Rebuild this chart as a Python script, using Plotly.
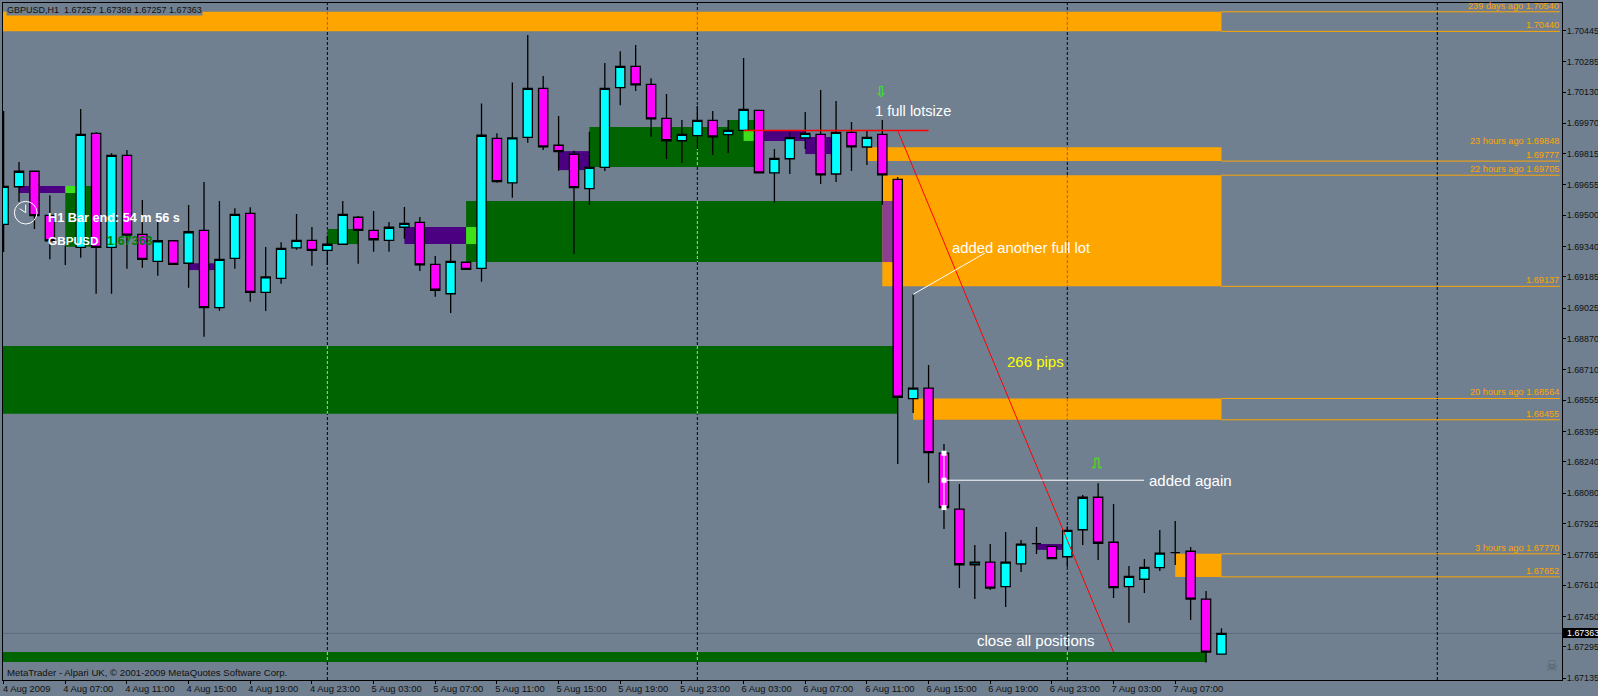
import plotly.graph_objects as go

# ---------- data ----------
open_ = [1.69454,1.69646,1.69725,1.69500,None,1.69336,1.69919,1.69336,1.69806,1.69403,
         1.69265,1.69370,1.69255,1.69423,1.69028,1.69280,1.69510,1.69106,1.69178,1.69334,
         1.69372,1.69321,1.69352,1.69490,1.69423,1.69372,1.69439,1.69464,1.69249,1.69099,
         1.69260,1.69229,1.69893,1.69666,1.69898,1.70149,1.69858,1.69812,1.69636,1.69745,
         1.70152,1.70261,1.70169,1.69995,1.69881,1.69907,1.69985,1.69912,1.69934,1.70036,
         1.69717,1.69789,1.69896,1.69914,1.69711,1.69924,1.69849,1.69914,1.69684,1.68563,
         1.68617,1.68284,1.67998,1.67714,1.67727,1.67602,1.67719,1.67822,1.67808,1.67755,
         1.67893,1.68059,1.67829,1.67602,1.67640,1.67699,1.67776,1.67783,1.67538,1.67257]
high = [1.70033,1.69772,1.69726,1.69603,None,1.70043,1.69926,1.69817,1.69834,1.69578,
        1.69466,1.69370,1.69552,1.69670,1.69573,1.69536,1.69541,1.69338,1.69362,1.69506,
        1.69440,1.69394,1.69573,1.69496,1.69522,1.69466,1.69542,1.69491,1.69292,1.69355,
        1.69260,1.70072,1.69919,1.70179,1.70421,1.70212,1.70007,1.69830,1.69927,1.70278,
        1.70339,1.70370,1.70201,1.70120,1.69987,1.70058,1.70033,1.69987,1.70304,1.70036,
        1.69839,1.69927,1.70028,1.70140,1.70084,1.69977,1.69931,1.69987,1.69696,1.69096,
        1.68735,1.68331,1.68127,1.67815,1.67820,1.67881,1.67841,1.67907,1.67808,1.67909,
        1.68070,1.68130,1.68025,1.67708,1.67744,1.67892,1.67938,1.67805,1.67580,1.67389]
low = [1.69312,1.69569,1.69430,1.69276,None,1.69283,1.69099,1.69099,1.69227,1.69232,
       1.69191,1.69249,1.69130,1.68879,1.69012,1.69227,1.69058,1.69011,1.69150,1.69324,
       1.69242,1.69246,1.69348,1.69252,1.69314,1.69314,1.69380,1.69215,1.69084,1.69001,
       1.69224,1.69161,1.69666,1.69590,1.69871,1.69834,1.69728,1.69304,1.69552,1.69726,
       1.70063,1.70135,1.69900,1.69788,1.69767,1.69839,1.69808,1.69818,1.69934,1.69717,
       1.69564,1.69711,1.69839,1.69660,1.69670,1.69726,1.69757,1.69554,1.68229,1.68490,
       1.68132,1.67897,1.67595,1.67539,1.67585,1.67498,1.67677,1.67769,1.67745,1.67704,
       1.67815,1.67738,1.67544,1.67417,1.67570,1.67682,1.67713,1.67432,1.67214,1.67257]
close = [1.69648,1.69725,1.69498,1.69370,None,1.69914,1.69336,1.69806,1.69399,1.69275,
         1.69370,1.69249,1.69416,1.69028,1.69275,1.69505,1.69106,1.69185,1.69331,1.69372,
         1.69321,1.69352,1.69505,1.69423,1.69375,1.69439,1.69459,1.69247,1.69117,1.69265,
         1.69224,1.69909,1.69672,1.69896,1.70149,1.69850,1.69825,1.69641,1.69745,1.70149,
         1.70261,1.70167,1.69993,1.69881,1.69914,1.69985,1.69901,1.69934,1.70041,1.69717,
         1.69791,1.69897,1.69919,1.69707,1.69924,1.69850,1.69898,1.69707,1.68570,1.68617,
         1.68287,1.68006,1.67714,1.67727,1.67595,1.67727,1.67819,1.67822,1.67745,1.67890,
         1.68059,1.67824,1.67597,1.67655,1.67701,1.67773,1.67776,1.67538,1.67267,1.67363]
bars = list(range(len(open_)))

# bar whose body is hidden behind the green zone
hidden_bar = [4, 4]
hidden_wick = [1.69343, 1.69246]

x_ticks = list(range(0, 80, 4))
x_labels = ["4 Aug 2009","4 Aug 07:00","4 Aug 11:00","4 Aug 15:00","4 Aug 19:00","4 Aug 23:00",
            "5 Aug 03:00","5 Aug 07:00","5 Aug 11:00","5 Aug 15:00","5 Aug 19:00","5 Aug 23:00",
            "6 Aug 03:00","6 Aug 07:00","6 Aug 11:00","6 Aug 15:00","6 Aug 19:00","6 Aug 23:00",
            "7 Aug 03:00","7 Aug 07:00"]
y_ticks = [1.70445,1.70285,1.70130,1.69970,1.69815,1.69655,1.69500,1.69340,1.69185,1.69025,1.68870,
           1.68710,1.68555,1.68395,1.68240,1.68080,1.67925,1.67765,1.67610,1.67450,1.67295,1.67135]

day_separators = [21, 45, 69, 93]
bid_price = 1.67363

orange_zones = [(-1, 79, 1.70540, 1.70440), (56, 79, 1.69848, 1.69777), (57, 79, 1.69705, 1.69137),
                (59, 79, 1.68564, 1.68455), (76, 79, 1.67770, 1.67652)]
green_zones = [(4, 6, 1.69650, 1.69339), (21, 23, 1.69430, 1.69353), (30, 57, 1.69573, 1.69261),
               (-1, 58, 1.68832, 1.68486), (-1, 78, 1.67268, 1.67217), (38, 49, 1.69951, 1.69747),
               (47, 49, 1.69987, 1.69951)]
overlap_zones = [(57, 58, 1.69573, 1.69261)]
purple_zones = [(1, 4, 1.69650, 1.69614), (12, 14, 1.69255, 1.69220), (26, 30, 1.69440, 1.69353),
                (36, 38, 1.69828, 1.69731), (49, 52, 1.69931, 1.69880), (52, 54, 1.69900, 1.69813),
                (67, 69, 1.67820, 1.67790)]
bright_zones = [(4, 5, 1.69650, 1.69614), (30, 31, 1.69440, 1.69353), (48, 49, 1.69931, 1.69880)]

level_prices = [1.70540,1.70440,1.69848,1.69777,1.69705,1.69137,1.68564,1.68455,1.67770,1.67652]
level_texts = ["239 days ago 1.70540","1.70440","23 hours ago 1.69848","1.69777","22 hours ago 1.69705",
               "1.69137","20 hours ago 1.68564","1.68455","3 hours ago 1.67770","1.67652"]
level_has_line = [True,True,False,True,True,True,True,True,True,True]

red_flat_x = [48, 60]
red_flat_y = [1.69934, 1.69934]
red_diag_x = [58, 72]
red_diag_y = [1.69934, 1.67268]
white_a_x = [59, 63.65]
white_a_y = [1.69096, 1.69307]
white_b_x = [61, 73.98]
white_b_y = [1.68146, 1.68146]
handle_x = [61, 61, 61]
handle_y = [1.68284, 1.68146, 1.68006]

BG = "#708090"
ORANGE = "#FFA500"
GREEN = "#006400"
W, H = 1598, 696
L, R, T, B = 3, 1562, 3, 680
SANS = "Liberation Sans"

def px(x):
    return (x - L) / (R - L)
def py(y):
    return (B - y) / (B - T)

shapes = []
def rect(zone, color):
    x0, x1, y0, y1 = zone
    shapes.append(dict(type="rect", xref="x", yref="y", x0=x0, x1=x1, y0=y0, y1=y1,
                       fillcolor=color, line_width=0, layer="below"))

shapes.append(dict(type="line", xref="paper", yref="y", x0=0, x1=1, y0=bid_price, y1=bid_price,
                   line=dict(color="#5d6d7e", width=1), layer="below"))
for s in day_separators:
    shapes.append(dict(type="line", xref="x", yref="paper", x0=s, x1=s, y0=0, y1=1,
                       line=dict(color="black", width=1, dash="3px,2px"), layer="below"))
for z in orange_zones:
    rect(z, ORANGE)
for z in green_zones:
    rect(z, GREEN)
for z in overlap_zones:
    rect(z, "#8B3F8F")
for z in purple_zones:
    rect(z, "#4B0082")
for z in bright_zones:
    rect(z, "#3FE01A")

# separators seen through the zones change colour
for s in day_separators:
    for zones, col in ((orange_zones, "#9a5a5a"), (green_zones, "#8FE88F")):
        for x0, x1, y0, y1 in zones:
            if x0 < s < x1:
                shapes.append(dict(type="line", xref="x", yref="y", x0=s, x1=s, y0=y0, y1=y1,
                                   line=dict(color=col, width=1, dash="3px,2px"), layer="below"))

for price, has in zip(level_prices, level_has_line):
    if has:
        shapes.append(dict(type="line", xref="x", yref="y", x0=79, x1=100.95, y0=price, y1=price,
                           line=dict(color=ORANGE, width=1), layer="below"))

# clock icon and the price box on the axis
cx, cy, r = 25.7, 212.7, 11.3
shapes.append(dict(type="circle", xref="paper", yref="paper", x0=px(cx - r), x1=px(cx + r),
                   y0=py(cy + r), y1=py(cy - r), line=dict(color="white", width=1)))
shapes.append(dict(type="line", xref="paper", yref="paper", x0=px(cx), x1=px(cx), y0=py(cy), y1=py(cy - 8),
                   line=dict(color="white", width=1)))
shapes.append(dict(type="line", xref="paper", yref="paper", x0=px(cx), x1=px(cx - 6), y0=py(cy), y1=py(cy - 4),
                   line=dict(color="white", width=1)))
shapes.append(dict(type="rect", xref="paper", yref="paper", x0=px(1563), x1=px(1598), y0=py(638), y1=py(628),
                   fillcolor="black", line_width=0))

annotations = []
def note(text, x, y, color="white", size=15, family=SANS, anchor="left", **kw):
    annotations.append(dict(text=text, xref="paper", yref="paper", x=px(x), y=py(y), xanchor=anchor,
                            yanchor="middle", showarrow=False, borderpad=0,
                            font=dict(color=color, size=size, family=family), **kw))

note("GBPUSD,H1  1.67257 1.67389 1.67257 1.67363", 6, 10, color="#101010", size=9, bgcolor=BG)
note("MetaTrader - Alpari UK, © 2001-2009 MetaQuotes Software Corp.", 6, 672, color="#101010", size=9.6)
note("1 full lotsize", 874, 111, size=14.6)
note("added another full lot", 951, 248, size=14.8)
note("266 pips", 1006, 361, color="#FFFF00")
note("added again", 1148, 480)
note("close all positions", 976, 640)
note("<b>H1 Bar end: 54 m 56 s</b>", 47, 218, size=12.7)
note("<b>GBPUSD</b>", 47, 240.5, size=11.8)
note("<b>1.67363</b>", 106, 240.5, color="#008000", size=12.6)
note("<b>⇩</b>", 881, 92, color="#3FE01A", size=15, family="DejaVu Sans", anchor="center")
note("<b>⎍</b>", 1097, 463, color="#3FE01A", size=14, family="DejaVu Sans", anchor="center")
note("☠", 1551, 666, color="#56636f", size=15, family="DejaVu Sans", anchor="center")
note("1.67363", 1565.5, 633, size=8.9, anchor="left")

for price, text in zip(level_prices, level_texts):
    annotations.append(dict(text=text, xref="paper", yref="y", x=px(1560), y=price, xanchor="right",
                            yanchor="middle", yshift=6, showarrow=False, borderpad=0,
                            font=dict(color=ORANGE, size=9.2, family=SANS)))

fig = go.Figure()
fig.add_trace(go.Candlestick(
    x=bars, open=open_, high=high, low=low, close=close, whiskerwidth=0,
    increasing=dict(fillcolor="#00FFFF", line=dict(color="black", width=1.3)),
    decreasing=dict(fillcolor="#FF00FF", line=dict(color="black", width=1.3)),
    hoverinfo="skip"))
fig.add_trace(go.Scatter(x=hidden_bar, y=hidden_wick, mode="lines", line=dict(color="black", width=1.3), hoverinfo="skip"))
fig.add_trace(go.Scatter(x=red_flat_x, y=red_flat_y, mode="lines", line=dict(color="#FF0000", width=1.5), hoverinfo="skip"))
fig.add_trace(go.Scatter(x=red_diag_x, y=red_diag_y, mode="lines", line=dict(color="#FF0000", width=1), hoverinfo="skip"))
fig.add_trace(go.Scatter(x=white_a_x, y=white_a_y, mode="lines", line=dict(color="white", width=1), hoverinfo="skip"))
fig.add_trace(go.Scatter(x=white_b_x, y=white_b_y, mode="lines", line=dict(color="white", width=1), hoverinfo="skip"))
fig.add_trace(go.Scatter(x=handle_x, y=handle_y, mode="lines+markers", line=dict(color="white", width=1),
                         marker=dict(symbol="square", size=5, color="white"), hoverinfo="skip"))

fig.update_layout(
    width=W, height=H, margin=dict(l=L, r=W - R, t=T, b=H - B, pad=0, autoexpand=False),
    paper_bgcolor=BG, plot_bgcolor=BG, showlegend=False, boxgap=0.4, boxgroupgap=0,
    shapes=shapes, annotations=annotations,
    xaxis=dict(range=[-0.04, 101.09], rangeslider=dict(visible=False), showgrid=False, zeroline=False,
               tickmode="array", tickvals=x_ticks, ticktext=x_labels, ticks="outside", ticklen=3,
               tickcolor="black", tickwidth=1, showline=True, linecolor="black", linewidth=1, mirror=True,
               tickangle=0, ticklabelshift=23, ticklabelstandoff=-3,
               tickfont=dict(family=SANS, size=9.4, color="#101010")),
    yaxis=dict(range=[1.67125, 1.70585], side="right", showgrid=False, zeroline=False,
               tickmode="array", tickvals=y_ticks, ticktext=[f"{v:.5f}" for v in y_ticks],
               ticks="outside", ticklen=3, tickcolor="black", tickwidth=1, showline=True, linecolor="black",
               linewidth=1, mirror=True, ticklabelstandoff=-1,
               tickfont=dict(family=SANS, size=8.9, color="#101010")),
)
fig.write_html("out.html", config=dict(displayModeBar=False),
               post_script="document.body.style.margin='0';document.body.style.background='#708090';")
